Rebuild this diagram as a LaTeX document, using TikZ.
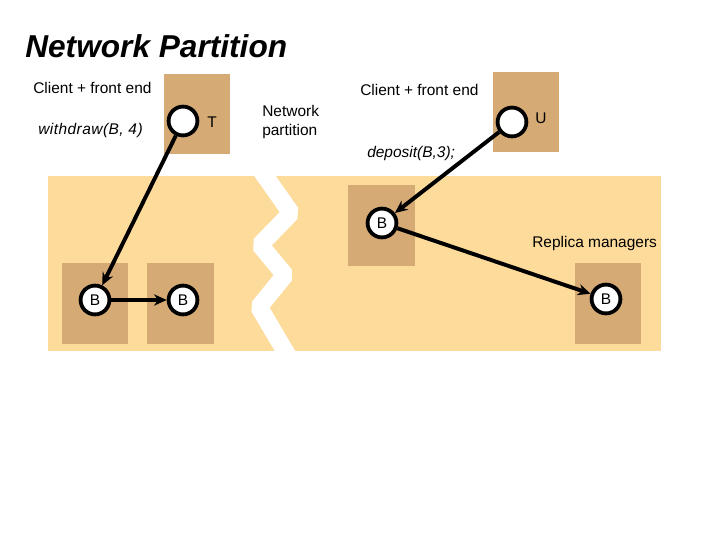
\documentclass[tikz,border=0pt]{standalone}
\usepackage{fontspec}
\setmainfont{Liberation Sans}
\usepackage{xcolor}
\usetikzlibrary{positioning, arrows.meta}
\definecolor{lightpeach}{RGB}{252,219,155}
\definecolor{tanbox}{RGB}{214,170,117}

\begin{document}
\begin{tikzpicture}[x=0.025cm, y=-0.025cm, >={Stealth[length=9pt,width=8pt]},
    rm/.style={fill=tanbox, minimum width=1.65cm, minimum height=2cm, inner sep=0pt},
    proc/.style={circle, draw, line width=2.7pt, fill=white, minimum size=0.72cm,
                 inner sep=0pt, font=\fontsize{11}{13}\selectfont},
    lbl/.style={font=\fontsize{11}{14}\selectfont, inner sep=0pt},
    msg/.style={line width=2.8pt}]

    \useasboundingbox (0,0) rectangle (720,540);

    % --- Title ---
    \node[anchor=base west, inner sep=0pt, font=\fontsize{22.5}{26}\selectfont\bfseries\itshape]
        (title) at (25,57) {Network Partition};

    % --- Replica managers area, cut by the partition ---
    \fill[lightpeach] (48,176) rectangle (661,351);
    \begin{scope}
        \clip (48,176) rectangle (661,351);
        \draw[white, line width=12.5pt, line join=bevel]
            (258,166) -- (265,176) -- (291,213) -- (260,245) -- (285,275)
            -- (259,307) -- (285,351) -- (291,361);
    \end{scope}

    % --- Client T ---
    \node[rm] (boxT) at (197,114) {};
    \node[proc] (cT) at (183,121) {};
    \node[lbl] (lT) at (212,122) {T};
    \node[lbl, anchor=west] (client1) at (33,88) {Client + front end};
    \node[lbl, anchor=west] (wd) at (38,130)
        {\itshape\addfontfeatures{LetterSpace=3}withdraw(B, 4)};

    % --- Client U ---
    \node[rm] (boxU) at (525.5,112) {};
    \node[proc] (cU) at (512,122) {};
    \node[lbl] (lU) at (541,118) {U};
    \node[lbl, anchor=west] (client2) at (360,90) {Client + front end};
    \node[lbl, anchor=west] (dp) at (367,153) {\itshape deposit(B,3);};

    % --- Partition label ---
    \node[lbl, anchor=west, align=left] (netp) at (262,122) {Network\\partition};

    % --- Replica managers ---
    \node[rm] (box1) at (95,303.5) {};
    \node[rm] (box2) at (180.5,303.5) {};
    \node[rm] (box3) at (381.5,225.5) {};
    \node[rm] (box4) at (607.5,303.5) {};
    \node[proc] (b1) at (95,300) {B};
    \node[proc] (b2) at (183,300) {B};
    \node[proc] (b3) at (382,223) {B};
    \node[proc] (b4) at (606,299) {B};
    \node[lbl, anchor=west] (rmlbl) at (532,243) {Replica managers};

    % --- Messages ---
    \draw[msg,->] (cT) -- (b1);
    \draw[msg,->] (b1) -- (b2);
    \draw[msg,->] (cU) -- (b3);
    \draw[msg,->] (b3) -- (b4);

\end{tikzpicture}
\end{document}
